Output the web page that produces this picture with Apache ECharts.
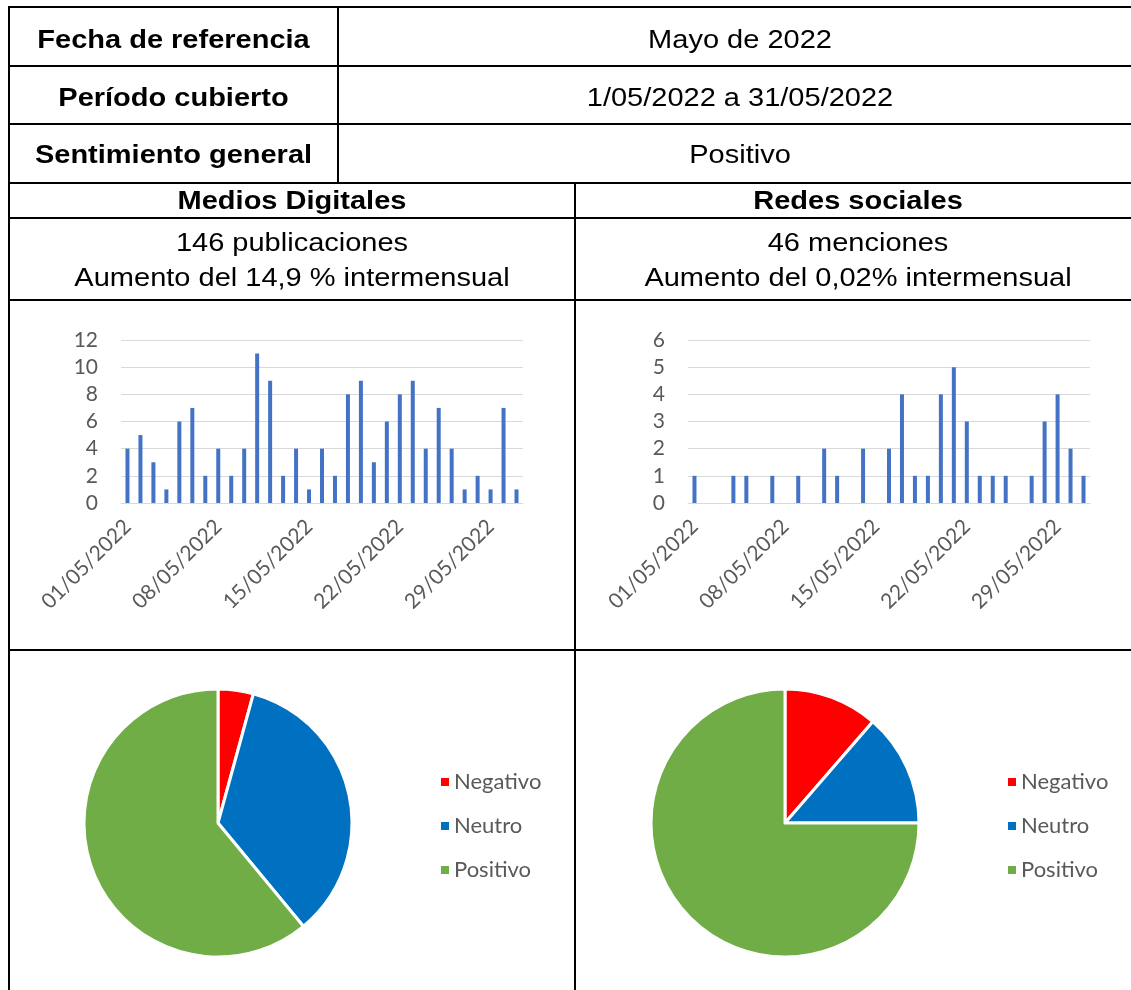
<!DOCTYPE html>
<html>
<head>
<meta charset="utf-8">
<script src="https://cdn.jsdelivr.net/npm/echarts@6/dist/echarts.min.js"></script>
<style>
  html, body { margin: 0; padding: 0; background: #fff; }
  #main { width: 1131px; height: 990px; }
</style>
</head>
<body>
<div id="main"></div>
<script>
// ---------- data ----------
const dates = ['01/05/2022','02/05/2022','03/05/2022','04/05/2022','05/05/2022','06/05/2022','07/05/2022',
  '08/05/2022','09/05/2022','10/05/2022','11/05/2022','12/05/2022','13/05/2022','14/05/2022',
  '15/05/2022','16/05/2022','17/05/2022','18/05/2022','19/05/2022','20/05/2022','21/05/2022',
  '22/05/2022','23/05/2022','24/05/2022','25/05/2022','26/05/2022','27/05/2022','28/05/2022',
  '29/05/2022','30/05/2022','31/05/2022'];
const mediosDigitales = [4,5,3,1,6,7,2,4,2,4,11,9,2,4,1,4,2,8,9,3,6,8,9,4,7,4,1,2,1,7,1];
const redesSociales  = [1,0,0,1,1,0,1,0,1,0,2,1,0,2,0,2,4,1,1,4,5,3,1,1,1,0,1,3,4,2,1];
const sentimentNames = ['Negativo','Neutro','Positivo'];
const mediosSentiment = [6,49,86];
const redesSentiment  = [5,6,33];
const mediosTicks = { min: 0, max: 12, interval: 2 };
const redesTicks  = { min: 0, max: 6, interval: 1 };

const tableLabels = ['Fecha de referencia','Período cubierto','Sentimiento general'];
const tableValues = ['Mayo de 2022','1/05/2022 a 31/05/2022','Positivo'];
const sectionTitles = ['Medios Digitales','Redes sociales'];
const sectionLine1 = ['146 publicaciones','46 menciones'];
const sectionLine2 = ['Aumento del 14,9 % intermensual','Aumento del 0,02% intermensual'];

// ---------- styling ----------
const axisFont = 'Lato, "Open Sans", sans-serif';
const tableFont = '"Liberation Sans", Arial, sans-serif';
const gray = '#595959';
const gridGray = '#D9D9D9';
const sentColors = ['#FF0000','#0070C0','#70AD47'];

const chart = echarts.init(document.getElementById('main'), null, { renderer: 'canvas' });

// table graphic
const g = [];
function hline(y, x1, x2) {
  g.push({ type: 'line', shape: { x1: x1, y1: y, x2: x2, y2: y }, style: { stroke: '#000', lineWidth: 2 }, silent: true });
}
function vline(x, y1, y2) {
  g.push({ type: 'line', shape: { x1: x, y1: y1, x2: x, y2: y2 }, style: { stroke: '#000', lineWidth: 2 }, silent: true });
}
function txt(s, x, y, bold) {
  g.push({ type: 'text', x: x, y: y, scaleX: 1.16, silent: true,
    style: { text: s, fill: '#000', font: (bold ? 'bold ' : '') + '25px ' + tableFont,
      textAlign: 'center', textVerticalAlign: 'middle' } });
}
[7, 66, 124, 183, 218, 300, 650].forEach(y => hline(y, 8, 1131));
vline(9, 6, 990);
vline(338, 6, 183);
vline(575, 183, 990);

const rowY = [41, 99, 156];
tableLabels.forEach((s, i) => txt(s, 173.5, rowY[i], true));
tableValues.forEach((s, i) => txt(s, 740, rowY[i], false));
const colX = [292, 858];
sectionTitles.forEach((s, i) => txt(s, colX[i], 202, true));
sectionLine1.forEach((s, i) => txt(s, colX[i], 244, false));
sectionLine2.forEach((s, i) => txt(s, colX[i], 279, false));

function xAxisCfg(gridIndex) {
  return {
    type: 'category', gridIndex: gridIndex, data: dates, boundaryGap: true,
    axisLine: { lineStyle: { color: gridGray, width: 1 } },
    axisTick: { interval: 6, length: 7, lineStyle: { color: gridGray } },
    axisLabel: { interval: 6, rotate: 45, color: gray, fontFamily: axisFont, fontSize: 21, margin: 20 },
    splitLine: { show: false }
  };
}
function yAxisCfg(gridIndex, t) {
  return {
    type: 'value', gridIndex: gridIndex, min: t.min, max: t.max, interval: t.interval,
    axisLine: { show: false }, axisTick: { show: false },
    axisLabel: { color: gray, fontFamily: axisFont, fontSize: 21, margin: 23 },
    splitLine: { lineStyle: { color: gridGray, width: 1 } }
  };
}

const option = {
  animation: false,
  backgroundColor: '#fff',
  graphic: { elements: g },
  grid: [
    { left: 121, right: 1131 - 523, top: 340, bottom: 990 - 503 },
    { left: 688, right: 1131 - 1090, top: 340, bottom: 990 - 503 }
  ],
  xAxis: [xAxisCfg(0), xAxisCfg(1)],
  yAxis: [yAxisCfg(0, mediosTicks), yAxisCfg(1, redesTicks)],
  legend: [
    { orient: 'vertical', left: 434, top: 766, itemWidth: 10, itemHeight: 10, icon: 'rect', itemGap: 22,
      data: sentimentNames, selectedMode: false,
      textStyle: { color: gray, fontFamily: axisFont, fontSize: 22, padding: [0, 0, 0, -1] } },
    { orient: 'vertical', left: 1001, top: 766, itemWidth: 10, itemHeight: 10, icon: 'rect', itemGap: 22,
      data: sentimentNames, selectedMode: false,
      textStyle: { color: gray, fontFamily: axisFont, fontSize: 22, padding: [0, 0, 0, -1] } }
  ],
  series: [
    { type: 'bar', xAxisIndex: 0, yAxisIndex: 0, data: mediosDigitales, barWidth: 4,
      itemStyle: { color: '#4472C4' } },
    { type: 'bar', xAxisIndex: 1, yAxisIndex: 1, data: redesSociales, barWidth: 4,
      itemStyle: { color: '#4472C4' } },
    { type: 'pie', center: [218, 823], radius: 134, startAngle: 90, clockwise: true,
      color: sentColors, label: { show: false }, labelLine: { show: false },
      itemStyle: { borderColor: '#fff', borderWidth: 3 },
      data: sentimentNames.map((n, i) => ({ name: n, value: mediosSentiment[i] })) },
    { type: 'pie', center: [785, 823], radius: 134, startAngle: 90, clockwise: true,
      color: sentColors, label: { show: false }, labelLine: { show: false },
      itemStyle: { borderColor: '#fff', borderWidth: 3 },
      data: sentimentNames.map((n, i) => ({ name: n, value: redesSentiment[i] })) }
  ]
};
chart.setOption(option);
</script>
</body>
</html>
